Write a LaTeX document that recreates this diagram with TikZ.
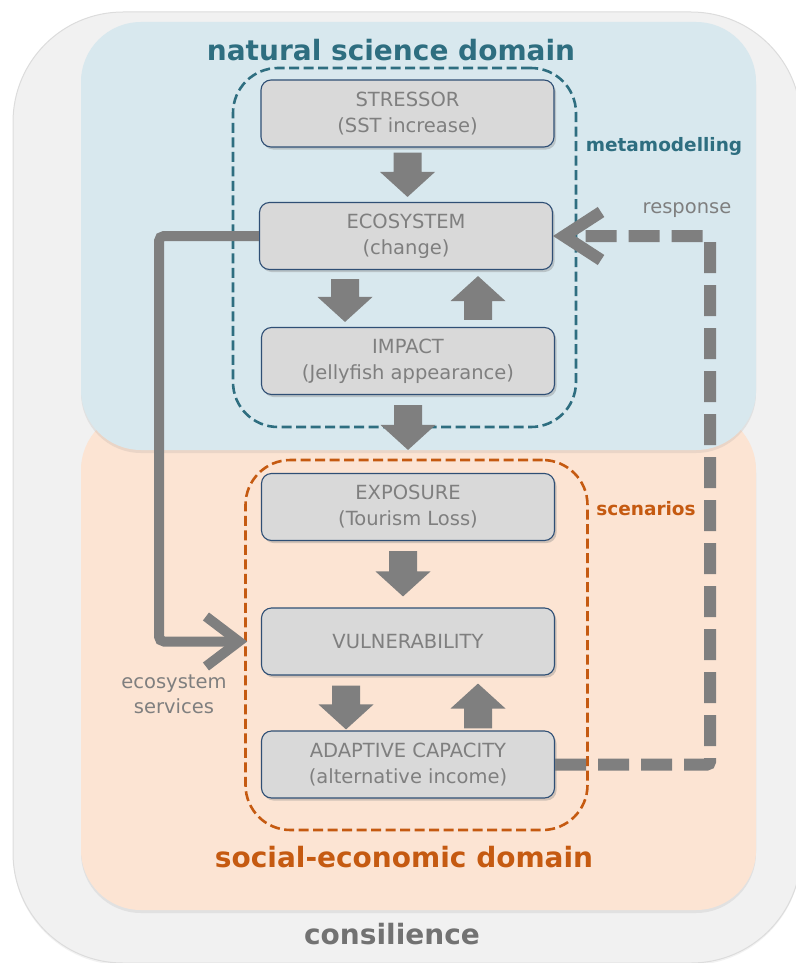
\documentclass[tikz,border=0pt]{standalone}
\usepackage{fontspec}
\setmainfont{DejaVu Sans}
\usetikzlibrary{calc,shadows}
\definecolor{outerbg}{HTML}{F1F1F1}
\definecolor{outerline}{HTML}{DCDCDC}
\definecolor{bluebg}{HTML}{D8E8EE}
\definecolor{peachbg}{HTML}{FCE4D3}
\definecolor{tealC}{HTML}{2E6E80}
\definecolor{orangeD}{HTML}{C55A11}
\definecolor{boxfill}{HTML}{D9D9D9}
\definecolor{boxline}{HTML}{2F4F75}
\definecolor{txtgray}{HTML}{7F7F7F}
\definecolor{arrgray}{HTML}{7F7F7F}
\newcommand\blockdown[2]{\fill[arrgray] let \p1=(#1), \p2=(#2) in
  (\x1-14pt,\y1) -- (\x1+14pt,\y1) -- (\x1+14pt,\y2+25pt) -- (\x1+27.5pt,\y2+25pt)
  -- (\x1,\y2) -- (\x1-27.5pt,\y2+25pt) -- (\x1-14pt,\y2+25pt) -- cycle;}
\newcommand\blockup[2]{\fill[arrgray] let \p1=(#1), \p2=(#2) in
  (\x1-14pt,\y1) -- (\x1+14pt,\y1) -- (\x1+14pt,\y2-25pt) -- (\x1+27.5pt,\y2-25pt)
  -- (\x1,\y2) -- (\x1-27.5pt,\y2-25pt) -- (\x1-14pt,\y2-25pt) -- cycle;}
\begin{document}
\begin{tikzpicture}[x=1pt,y=-1pt,
  box/.style={draw=boxline, line width=1.1pt, fill=boxfill, rounded corners=10pt,
    minimum width=293pt, minimum height=67pt, inner sep=0pt, align=center,
    text=txtgray, font=\fontsize{19.5}{26}\selectfont,
    drop shadow={opacity=0.35, shadow xshift=2pt, shadow yshift=-2.5pt}},
  domainbox/.style={rounded corners=60pt, minimum width=675pt, inner sep=0pt,
    drop shadow={opacity=0.14, shadow xshift=0pt, shadow yshift=-3pt}},
  groupbox/.style={dash pattern=on 10pt off 4.5pt, line width=2.6pt,
    rounded corners=45pt, inner sep=0pt},
  titletext/.style={font=\fontsize{28}{32}\selectfont\bfseries},
  sublabel/.style={font=\fontsize{18.5}{22}\selectfont\bfseries},
  graylabel/.style={text=txtgray, font=\fontsize{19.5}{24}\selectfont, align=center},
  resp/.style={arrgray, line width=12pt, dash pattern=on 31pt off 12pt, rounded corners=3pt},
  esline/.style={arrgray, line width=10pt, rounded corners=5pt},
  chev/.style={arrgray, line join=miter}
]
\useasboundingbox (0,0) rectangle (795,963);
% backgrounds
\node[draw=outerline, line width=1pt, fill=outerbg, rounded corners=110pt,
  minimum width=788pt, minimum height=951pt, inner sep=0pt,
  drop shadow={opacity=0.10, shadow xshift=0pt, shadow yshift=-2pt}] (consilbox) at (407,487.5) {};
\node[domainbox, fill=peachbg, minimum height=500pt] (socbox) at (418.5,660) {};
\node[domainbox, fill=bluebg, minimum height=428pt] (natbox) at (418.5,236) {};
% dashed groups
\node[groupbox, draw=tealC, minimum width=343pt, minimum height=359pt] (meta) at (404.5,247.5) {};
\node[groupbox, draw=orangeD, minimum width=342pt, minimum height=370pt] (scen) at (416.5,645) {};
% boxes
\node[box] (stressor) at (407.5,113.5) {STRESSOR\\(SST increase)};
\node[box] (eco) at (406,236) {ECOSYSTEM\\(change)};
\node[box] (impact) at (408,361) {IMPACT\\(Jellyfish appearance)};
\node[box] (exposure) at (408,507) {EXPOSURE\\(Tourism Loss)};
\node[box] (vuln) at (408,641.5) {VULNERABILITY};
\node[box] (adapt) at (408,764.5) {ADAPTIVE CAPACITY\\(alternative income)};
% connectors
\coordinate (rx) at (710,500);
\coordinate (ex) at (159,400);
\draw[resp] (adapt.east) -- (adapt.east -| rx) -- (eco.east -| rx) -- ($(eco.east)+(11,0)$);
\draw[chev, line width=12pt] ($(eco.east)+(48,-24)$) -- ($(eco.east)+(11,0)$) -- ($(eco.east)+(48,24)$);
\draw[esline] (eco.west) -- (eco.west -| ex) -- (vuln.west -| ex) -- ($(vuln.west)+(-22,0)$);
\draw[chev, line width=10pt] ($(vuln.west)+(-55,-25)$) -- ($(vuln.west)+(-22,0)$) -- ($(vuln.west)+(-55,25)$);
% block arrows
\blockdown{$(stressor.south)+(0,5)$}{$(eco.north)+(0,-5)$}
\blockdown{$(eco.south)+(-61,9)$}{$(impact.north)+(-61,-5)$}
\blockup{$(impact.north)+(70,-7)$}{$(eco.south)+(70,6)$}
\blockdown{$(impact.south)+(0,10)$}{$(exposure.north)+(0,-23)$}
\blockdown{$(exposure.south)+(-5,10)$}{$(vuln.north)+(-5,-11)$}
\blockdown{$(vuln.south)+(-62,10)$}{$(adapt.north)+(-62,-1)$}
\blockup{$(adapt.north)+(70,-2)$}{$(vuln.south)+(70,8)$}
% labels
\node[titletext, text=tealC] (nattitle) at (391,50) {natural science domain};
\node[titletext, text=orangeD] (soctitle) at (404,857) {social-economic domain};
\node[titletext, text=txtgray!90!black] (contitle) at (392,934) {consilience};
\node[sublabel, text=tealC] (metalabel) at (664,146) {metamodelling};
\node[sublabel, text=orangeD] (scenlabel) at (646,509) {scenarios};
\node[graylabel] (resplabel) at (687,210) {response};
\node[graylabel, font=\fontsize{19.5}{25}\selectfont] (eslabel) at (174,694) {ecosystem\\services};
\end{tikzpicture}
\end{document}
